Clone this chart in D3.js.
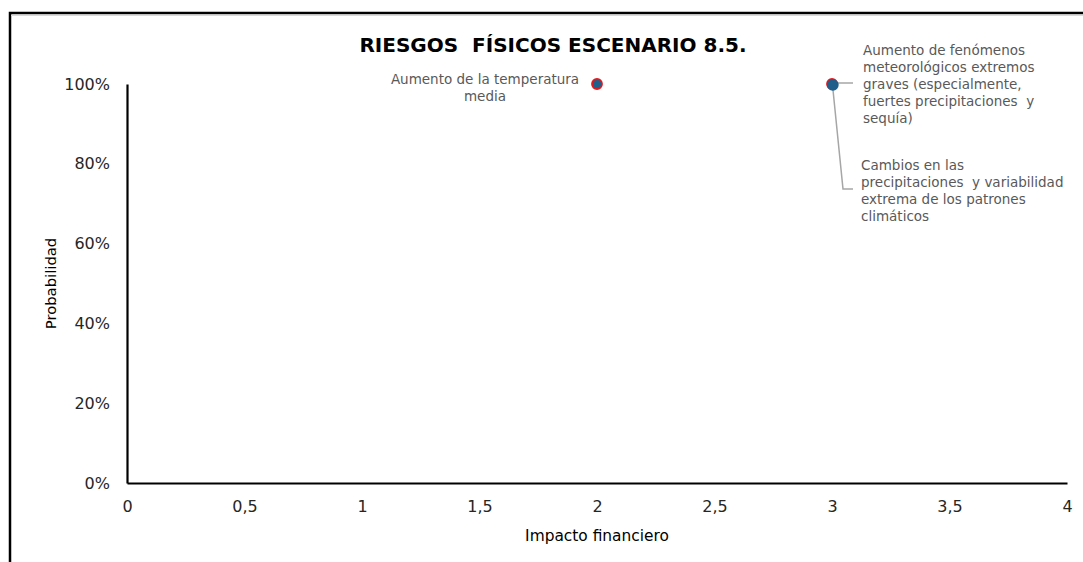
<!DOCTYPE html>
<html>
<head>
<meta charset="utf-8">
<script src="https://cdn.jsdelivr.net/npm/d3@7"></script>
<style>
  html, body { margin: 0; padding: 0; background: #fff; }
  svg { display: block; }
  text { font-family: "DejaVu Sans", sans-serif; }
</style>
</head>
<body>
<svg id="chart" width="1083" height="562"></svg>
<script>
// ---- data ----
const riesgos = [
  "Aumento de la temperatura media",
  "Aumento de fenómenos meteorológicos extremos graves (especialmente, fuertes precipitaciones  y sequía)",
  "Cambios en las precipitaciones  y variabilidad extrema de los patrones climáticos"
];
const impacto = [2, 3, 3];
const probabilidad = [1, 1, 1];
const labelLines = [
  ["Aumento de la temperatura", "media"],
  ["Aumento de fenómenos", "meteorológicos extremos", "graves (especialmente,", "fuertes precipitaciones  y", "sequía)"],
  ["Cambios en las", "precipitaciones  y variabilidad", "extrema de los patrones", "climáticos"]
];
const xTicks = [0, 0.5, 1, 1.5, 2, 2.5, 3, 3.5, 4];
const yTicks = [0, 0.2, 0.4, 0.6, 0.8, 1];
const title = "RIESGOS  FÍSICOS ESCENARIO 8.5.";
const xTitle = "Impacto financiero";
const yTitle = "Probabilidad";

// ---- drawing ----
const FONT = "\"DejaVu Sans\", sans-serif";
const svg = d3.select("#chart");
const x = d3.scaleLinear().domain([0, 4]).range([127, 1067]);
const y = d3.scaleLinear().domain([0, 1]).range([483, 84]);

// outer frame (partially visible)
svg.append("path")
  .attr("d", "M10,562 L10,13 L1083,13")
  .attr("fill", "none").attr("stroke", "#000").attr("stroke-width", 2.5);
svg.append("line").attr("x1", 11).attr("x2", 1083).attr("y1", 15.5).attr("y2", 15.5)
  .attr("stroke", "#d9d9d9").attr("stroke-width", 1);

// title
svg.append("text")
  .attr("x", 553).attr("y", 52)
  .attr("text-anchor", "middle")
  .attr("font-size", 20).attr("font-weight", "bold").attr("fill", "#000")
  .attr("xml:space", "preserve")
  .text(title);

const fmtX = d => String(d).replace(".", ",");
const fmtY = d3.format(".0%");

// x axis
const gx = svg.append("g").attr("transform", `translate(0,${y(0)})`)
  .call(d3.axisBottom(x).tickValues(xTicks).tickFormat(fmtX).tickSize(0).tickPadding(18));
gx.select(".domain").attr("stroke", "#000").attr("stroke-width", 2.2);
gx.selectAll(".tick text").attr("font-size", 16).attr("fill", "#262626").attr("font-family", FONT);

// y axis
const gy = svg.append("g").attr("transform", `translate(${x(0)},0)`)
  .call(d3.axisLeft(y).tickValues(yTicks).tickFormat(fmtY).tickSize(0).tickPadding(17));
gy.select(".domain").attr("stroke", "#000").attr("stroke-width", 2.2);
gy.selectAll(".tick text").attr("font-size", 16).attr("fill", "#262626").attr("font-family", FONT);

// axis titles
svg.append("text")
  .attr("x", (x(0) + x(4)) / 2).attr("y", 541)
  .attr("text-anchor", "middle").attr("font-size", 15.4).attr("fill", "#000")
  .text(xTitle);
svg.append("text")
  .attr("transform", `translate(56,${(y(0) + y(1)) / 2}) rotate(-90)`)
  .attr("text-anchor", "middle").attr("font-size", 14.8).attr("fill", "#000")
  .text(yTitle);

// leader lines for overlapping points at (3,100%)
const p3x = x(impacto[1]), p3y = y(probabilidad[1]);
svg.append("polyline")
  .attr("points", `${p3x + 5},${p3y - 1} ${p3x + 21},${p3y - 1}`)
  .attr("fill", "none").attr("stroke", "#a6a6a6").attr("stroke-width", 1.5);
svg.append("polyline")
  .attr("points", `${p3x + 1},${p3y + 6} ${p3x + 11},${p3y + 105} ${p3x + 21},${p3y + 105}`)
  .attr("fill", "none").attr("stroke", "#a6a6a6").attr("stroke-width", 1.5);

// points
const pts = riesgos.map((r, i) => ({ r, x: impacto[i], y: probabilidad[i] }));
svg.append("g").selectAll("circle").data(pts).join("circle")
  .attr("cx", d => x(d.x)).attr("cy", d => y(d.y)).attr("r", 5)
  .attr("fill", "#1f5f8b")
  .attr("stroke", (d, i) => i === 2 ? "#1f5f8b" : "#e0191f")
  .attr("stroke-width", 1.8)
  .attr("transform", (d, i) => i === 2 ? "translate(0.8,0.8)" : null);

// data labels
const labelPos = [
  { dx: -112, dy: 0, anchor: "middle" },
  { dx: 31, dy: -29, anchor: "start" },
  { dx: 29, dy: 86, anchor: "start" }
];
const lineH = 17;
pts.forEach((d, i) => {
  const t = svg.append("text")
    .attr("x", x(d.x) + labelPos[i].dx)
    .attr("y", y(d.y) + labelPos[i].dy)
    .attr("text-anchor", labelPos[i].anchor)
    .attr("font-size", 13.5).attr("fill", "#595959")
    .attr("xml:space", "preserve");
  labelLines[i].forEach((ln, k) => {
    t.append("tspan").attr("x", x(d.x) + labelPos[i].dx)
      .attr("dy", k === 0 ? 0 : lineH).text(ln);
  });
});
</script>
</body>
</html>
